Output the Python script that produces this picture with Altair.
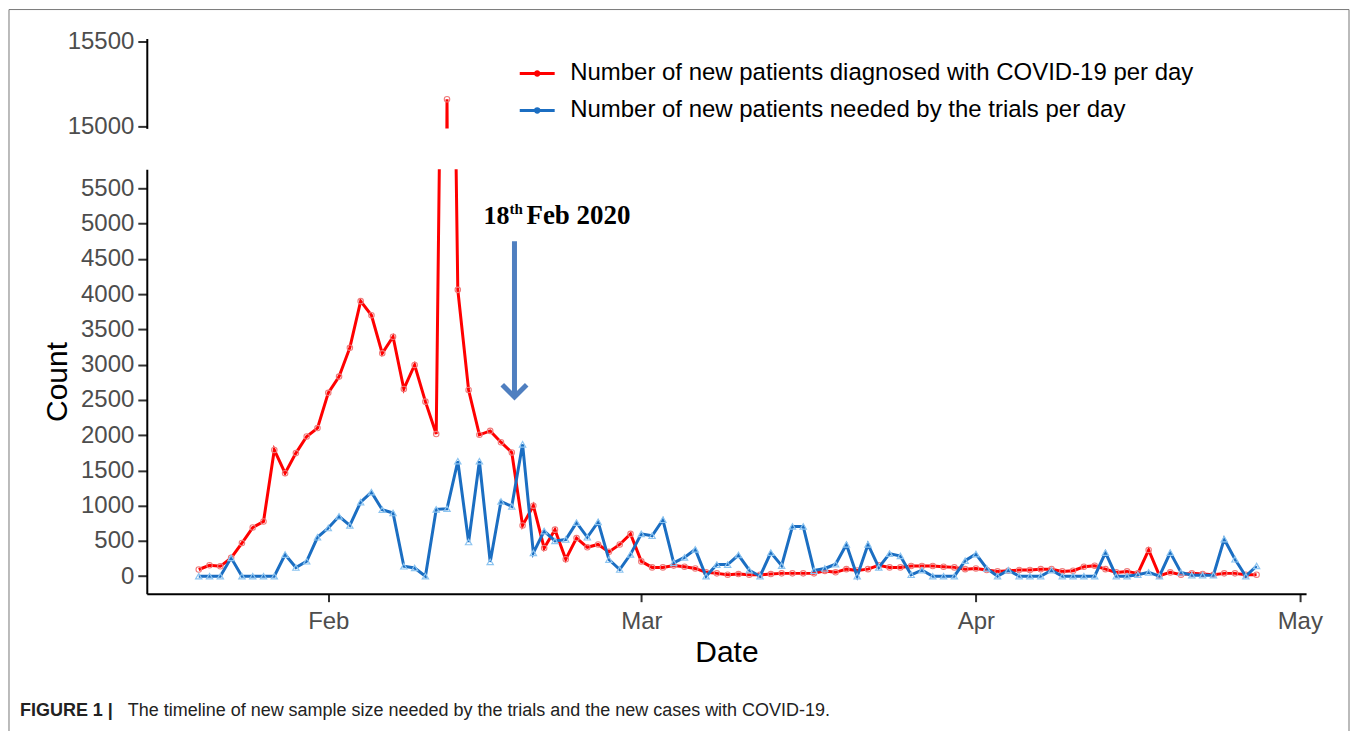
import altair as alt
import pandas as pd

# ---- data ----
dates = pd.date_range("2020-01-20", "2020-04-27", freq="D").strftime("%Y/%m/%d").tolist()

S1 = "Number of new patients diagnosed with COVID-19 per day"
S2 = "Number of new patients needed by the trials per day"

diagnosed = [
    95, 155, 140, 260, 470, 690, 775, 1790, 1460, 1745, 1980, 2100,            # Jan 20-31
    2600, 2830, 3240, 3900, 3700, 3160, 3395, 2655, 2995, 2475, 2015, 15160,   # Feb 1-12
    4060, 2640, 2005, 2060, 1900, 1755, 720, 1000, 400, 660, 240, 540,         # Feb 13-24
    410, 450, 345, 450, 600,                                                   # Feb 25-29
    210, 125, 125, 150, 135, 110, 55, 40, 20, 30, 20, 20, 30, 40, 40, 40,      # Mar 1-16
    40, 75, 55, 100, 80, 100, 155, 125, 125, 145, 145, 145, 135, 125, 100,     # Mar 17-31
    110, 87, 68, 78, 87, 87, 100, 100, 68, 78, 134, 148, 100, 54, 68, 40,      # Apr 1-16
    371, 7, 54, 20, 40, 30, 20, 40, 40, 20, 20,                                # Apr 17-27
]
needed = [
    0, 0, 0, 260, 0, 0, 0, 0, 307, 123, 212, 552,                              # Jan 20-31
    683, 849, 721, 1051, 1192, 943, 896, 141, 117, 0, 948, 957,                # Feb 1-12
    1630, 485, 1630, 202, 1060, 990, 1870, 330, 640, 500, 520, 760,            # Feb 13-24
    552, 770, 236, 95, 310,                                                    # Feb 25-29
    600, 573, 800, 190, 266, 380, 0, 165, 165, 300, 85, 0, 335, 150, 705, 705, # Mar 1-16
    80, 110, 170, 450, 0, 450, 125, 320, 287, 20, 85, 0, 0, 0, 220,            # Mar 17-31
    314, 110, 0, 85, 0, 0, 0, 85, 0, 0, 0, 0, 335, 0, 0, 20,                   # Apr 1-16
    54, 0, 335, 54, 15, 15, 15, 525, 240, 0, 145,                              # Apr 17-27
]

series_names = [S1, S2]
series_colors = ["#ff0000", "#1b6ec2"]

top_ticks = [15000, 15500]
bottom_ticks = list(range(0, 5501, 500))
month_ticks = [(2020, 2, 1), (2020, 3, 1), (2020, 4, 1), (2020, 5, 1)]

arrow_date = ["2020/02/18 06:00"]
arrow_from = [4750]
arrow_to = [2540]
label_value = [5000]

df = pd.DataFrame({
    "date": dates * 2,
    "count": diagnosed + needed,
    "series": [S1] * len(dates) + [S2] * len(dates),
})
red_df = df[df.series == S1]
blue_df = df[df.series == S2]
arrow_df = pd.DataFrame({"date": arrow_date, "y0": arrow_from, "y1": arrow_to, "lab": label_value})
one = pd.DataFrame({"a": [0]})

FONT = "Liberation Sans"
SERIF = "Liberation Serif"
W = 1161

xscale = alt.Scale(domain=[alt.DateTime(year=2020, month=1, date=15, hours=4, minutes=30),
                           alt.DateTime(year=2020, month=5, date=1, hours=14)])
cscale = alt.Scale(domain=series_names, range=series_colors)
top_yscale = alt.Scale(domain=[14988, 15518], nice=False, zero=False)
bot_yscale = alt.Scale(domain=[-248, 5769], nice=False, zero=False)

legend_path = "M-1,0L1,0M-0.1,0A0.1,0.1,0,1,1,0.1,0A0.1,0.1,0,1,1,-0.1,0"

axis_common = dict(domainColor="black", domainWidth=2, tickColor="#333333", tickWidth=2,
                   labelFont=FONT, labelFontSize=24, labelColor="#4d4d4d", grid=False,
                   labelOverlap=False)

top_yaxis = alt.Axis(values=top_ticks, format="d", title=None, tickSize=9, labelPadding=4, **axis_common)
bottom_yaxis = alt.Axis(values=bottom_ticks, format="d", title="Count", tickSize=9, labelPadding=4,
                        titleFont=FONT, titleFontSize=30, titleFontWeight="normal", titleColor="black",
                        titlePadding=8, **axis_common)
bottom_xaxis = alt.Axis(values=[alt.DateTime(year=y, month=m, date=d) for (y, m, d) in month_ticks],
                        format="%b", title="Date", tickSize=8, labelPadding=8,
                        titleFont=FONT, titleFontSize=30, titleFontWeight="normal", titleColor="black",
                        titlePadding=4, **axis_common)


def series_layers(yscale, yaxis, xaxis, legend):
    X = alt.X("date:T", scale=xscale, axis=xaxis, title=None)
    Y = alt.Y("count:Q", scale=yscale, axis=yaxis)
    C = alt.Color("series:N", scale=cscale, legend=legend)
    red_line = alt.Chart(red_df).mark_line(strokeWidth=3, clip=True).encode(x=X, y=Y, color=C)
    red_pts = alt.Chart(red_df).mark_point(shape="circle", filled=False, size=30, stroke="#ef7a7a",
                                           strokeWidth=1.1, opacity=1, clip=True).encode(x=X, y=Y)
    blue_line = alt.Chart(blue_df).mark_line(strokeWidth=3, clip=True).encode(x=X, y=Y, color=C)
    blue_pts = alt.Chart(blue_df).mark_point(shape="triangle-up", filled=False, size=40, stroke="#8cc4f0",
                                             strokeWidth=1.2, opacity=1, clip=True).encode(x=X, y=Y)
    return [red_line, red_pts, blue_line, blue_pts]


legend = alt.Legend(orient="none", legendX=372, legendY=16, title=None, symbolType=legend_path,
                    symbolSize=1225, symbolStrokeWidth=3, labelFont=FONT, labelFontSize=24,
                    labelColor="black", labelOffset=14, rowPadding=6, padding=0, labelLimit=0)

frame = alt.Chart(one).mark_rect(fillOpacity=0, stroke="#777777", strokeWidth=1).encode(
    x=alt.value(-138), x2=alt.value(1204), y=alt.value(-29), y2=alt.value(720))

top = alt.layer(
    *series_layers(top_yscale, top_yaxis, None, legend), frame
).properties(width=W, height=90)

# annotation (arrow at 18 Feb)
AX = alt.X("date:T", scale=xscale, axis=bottom_xaxis, title=None)


def AY(field):
    return alt.Y(field, scale=bot_yscale, axis=bottom_yaxis)


ARROW_C = "#4f7fc0"
shaft = alt.Chart(arrow_df).mark_rule(strokeWidth=5, color=ARROW_C).encode(
    x=AX, y=AY("y0:Q"), y2="y1:Q")
head = alt.Chart(arrow_df).mark_point(shape="M-1,-1L0,0L1,-1", filled=False, size=600, stroke=ARROW_C,
                                      strokeWidth=5, opacity=1, strokeJoin="miter").encode(
    x=AX, y=AY("y1:Q"))
txt18 = alt.Chart(arrow_df).mark_text(text="18", align="left", baseline="alphabetic", dx=-31,
                                      font=SERIF, fontWeight="bold", fontSize=26,
                                      color="black").encode(x=AX, y=AY("lab:Q"))
txtth = alt.Chart(arrow_df).mark_text(text="th", align="left", baseline="alphabetic", dx=-5, dy=-10,
                                      font=SERIF, fontWeight="bold", fontSize=15,
                                      color="black").encode(x=AX, y=AY("lab:Q"))
txtfeb = alt.Chart(arrow_df).mark_text(text="Feb 2020", align="left", baseline="alphabetic", dx=12,
                                       font=SERIF, fontWeight="bold", fontSize=27,
                                       color="black").encode(x=AX, y=AY("lab:Q"))

cap_bold = alt.Chart(one).mark_text(text="FIGURE 1 |", align="left", baseline="alphabetic",
                                    font=FONT, fontWeight="bold", fontSize=18, color="#222222").encode(
    x=alt.value(-127), y=alt.value(547))
cap_text = alt.Chart(one).mark_text(
    text="The timeline of new sample size needed by the trials and the new cases with COVID-19.",
    align="left", baseline="alphabetic", font=FONT, fontSize=18, color="#222222").encode(
    x=alt.value(-19), y=alt.value(547))

bottom = alt.layer(
    *series_layers(bot_yscale, bottom_yaxis, bottom_xaxis, None),
    shaft, head, txt18, txtth, txtfeb, cap_bold, cap_text
).properties(width=W, height=425)

chart = alt.vconcat(top, bottom, spacing=41, bounds="flush").resolve_scale(
    color="independent").resolve_legend(color="independent").properties(
    padding=0, background="white"
).configure(font=FONT).configure_view(stroke=None)

chart.save("out.html", embed_options={"renderer": "svg", "actions": False})
